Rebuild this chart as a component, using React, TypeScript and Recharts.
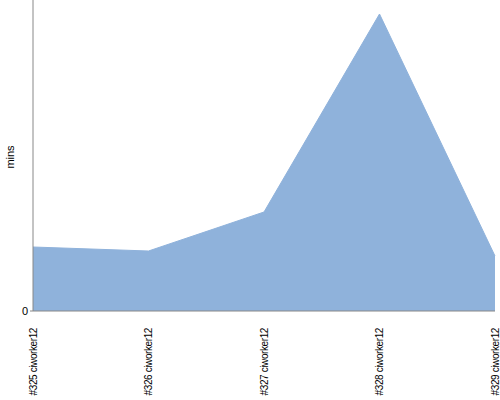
import { AreaChart, Area, XAxis, YAxis } from "recharts";

// build labels along the x axis
const BUILDS = [
  "#325 ciworker12",
  "#326 ciworker12",
  "#327 ciworker12",
  "#328 ciworker12",
  "#329 ciworker12",
];

// duration of each build, in minutes
const DURATIONS = [6.4, 6.0, 9.9, 29.7, 5.5];

const Y_MAX = 31.1;
const Y_TICKS = [0];

const data = BUILDS.map((build, i) => ({ build, mins: DURATIONS[i] }));

const FONT = "'Liberation Sans', Arial, sans-serif";

function BuildTick(props: any) {
  const { x, y, payload } = props;
  const ty = y + 9;
  return (
    <text
      x={x}
      y={ty}
      dy="0.35em"
      transform={`rotate(-90, ${x}, ${ty})`}
      textAnchor="end"
      fontSize={10}
      letterSpacing={-0.4}
      fontFamily={FONT}
      fill="#000"
    >
      {payload.value}
    </text>
  );
}

function MinsLabel() {
  const x = 10;
  const y = 157;
  return (
    <text
      x={x}
      y={y}
      dy="0.35em"
      transform={`rotate(-90, ${x}, ${y})`}
      textAnchor="middle"
      fontSize={11}
      fontFamily={FONT}
      fill="#000"
    >
      mins
    </text>
  );
}

export default function App() {
  return (
    <div style={{ position: "absolute", left: 0, top: 0 }}>
      <AreaChart
        width={500}
        height={400}
        data={data}
        margin={{ top: 0, right: 5, left: 0, bottom: 0 }}
      >
        <XAxis
          dataKey="build"
          height={89}
          interval={0}
          tick={<BuildTick />}
          tickLine={false}
          axisLine={{ stroke: "#888" }}
        />
        <YAxis
          width={33}
          domain={[0, Y_MAX]}
          ticks={Y_TICKS}
          tickSize={3}
          tickLine={{ stroke: "#888" }}
          axisLine={{ stroke: "#888" }}
          tick={{ fontSize: 11, fontFamily: FONT, fill: "#000" }}
          label={<MinsLabel />}
        />
        <Area
          type="linear"
          dataKey="mins"
          stroke="#8fb2db"
          strokeWidth={1}
          fill="#8fb2db"
          fillOpacity={1}
          isAnimationActive={false}
        />
      </AreaChart>
    </div>
  );
}
